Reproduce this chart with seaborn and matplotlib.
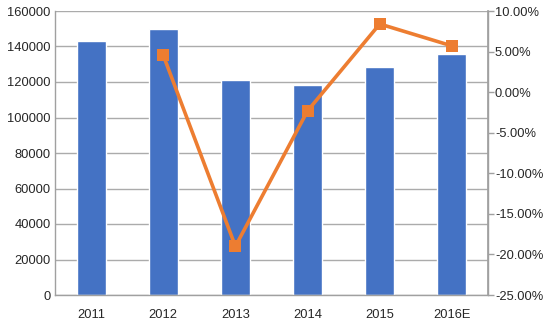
import matplotlib
matplotlib.use("Agg")
import matplotlib.pyplot as plt
import seaborn as sns
import pandas as pd
from matplotlib.ticker import FuncFormatter, MultipleLocator

years = ["2011", "2012", "2013", "2014", "2015", "2016E"]
volume = [143200, 149600, 121000, 118300, 128300, 135800]
growth_years = ["2012", "2013", "2014", "2015", "2016E"]
growth = [0.0455, -0.190, -0.023, 0.084, 0.057]

sns.set_theme(style="white")
plt.rcParams["font.family"] = ["Liberation Sans", "DejaVu Sans"]

bar_color = "#4472C4"
line_color = "#ED7D31"
grid_color = "#ABABAB"
spine_color = "#A0A0A0"
text_color = "#262626"
fs = 9.3

fig = plt.figure(figsize=(5.47, 3.29), dpi=100)
ax = fig.add_axes([55 / 547, 1 - 295 / 329, (488 - 55) / 547, (295 - 11) / 329])

df_bar = pd.DataFrame({"year": years, "volume": volume})
sns.barplot(data=df_bar, x="year", y="volume", order=years, color=bar_color,
            saturation=1, width=0.4, ax=ax, zorder=2)
ax.set_ylim(0, 160000)
ax.yaxis.set_major_locator(MultipleLocator(20000))
ax.set_xlim(-0.5, len(years) - 0.5)
ax.grid(axis="y", color=grid_color, linewidth=1, zorder=0)
ax.set_axisbelow(True)
ax.set_xlabel("")
ax.set_ylabel("")
ax.spines["top"].set_visible(False)
for s in ["left", "bottom", "right"]:
    ax.spines[s].set_color(spine_color)
    ax.spines[s].set_linewidth(1)
ax.tick_params(axis="both", length=0, labelsize=fs, colors=text_color)
ax.tick_params(axis="x", pad=10)
ax.tick_params(axis="y", pad=3)

ax2 = ax.twinx()
xpos = [years.index(y) for y in growth_years]
df_line = pd.DataFrame({"x": xpos, "growth": growth})
sns.lineplot(data=df_line, x="x", y="growth", ax=ax2, color=line_color,
             linewidth=2.6, marker="s", markersize=8.5, markeredgewidth=0,
             sort=False, zorder=3)
ax2.set_ylim(-0.25, 0.10)
ax2.yaxis.set_major_locator(MultipleLocator(0.05))
ax2.yaxis.set_major_formatter(FuncFormatter(lambda v, p: f"{v * 100:.2f}%"))
ax2.set_xlabel("")
ax2.set_ylabel("")
ax2.set_xlim(-0.5, len(years) - 0.5)
ax2.spines["top"].set_visible(False)
ax2.spines["left"].set_visible(False)
ax2.spines["bottom"].set_visible(False)
ax2.spines["right"].set_color(spine_color)
ax2.tick_params(axis="y", length=4, width=1, labelsize=fs,
                colors=text_color, pad=1, direction="out")
ax2.tick_params(axis="y", color=spine_color)
ax2.grid(False)

fig.savefig("out.png", dpi=100)
